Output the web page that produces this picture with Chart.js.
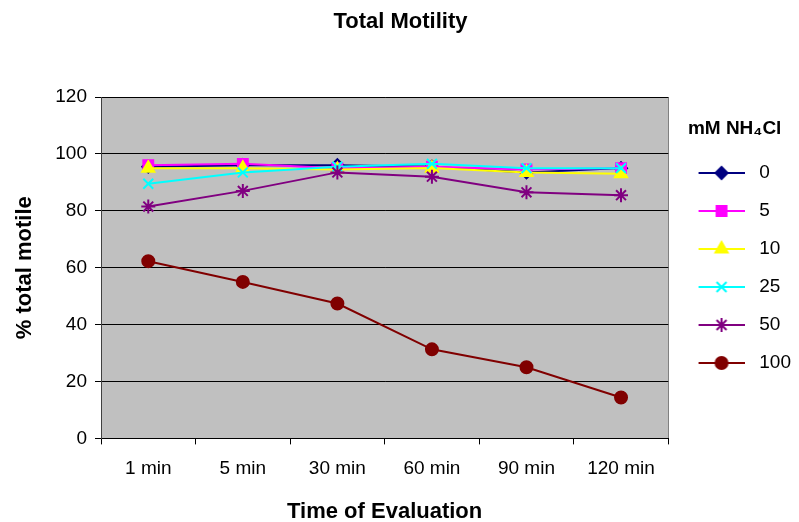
<!DOCTYPE html>
<html><head><meta charset="utf-8">
<script src="https://cdn.jsdelivr.net/npm/chart.js@4.4.0/dist/chart.umd.min.js"></script>
<style>html,body{margin:0;padding:0;background:#fff}</style></head>
<body><canvas id="c" width="799" height="522"></canvas>
<script>
const categories = ['1 min','5 min','30 min','60 min','90 min','120 min'];
const seriesNames = ['0','5','10','25','50','100'];
const s0   = [95.5, 96, 96, 95.5, 93.5, 95];
const s5   = [96, 96.5, 95, 95.5, 94.5, 95];
const s10  = [95, 95, 94.5, 95, 93.5, 93];
const s25  = [89.5, 93.5, 95.5, 96.5, 95, 95];
const s50  = [81.5, 87, 93.5, 92, 86.5, 85.5];
const s100 = [62.3, 55, 47.4, 31.3, 25, 14.4];
const yTicks = [0, 20, 40, 60, 80, 100, 120];

const seriesValues = [s0, s5, s10, s25, s50, s100];
const colors = ['#000080','#FF00FF','#FFFF00','#00FFFF','#800080','#800000'];
const markers = ['rectRot','rect','triangle','crossRot','star','circle'];
const radii = [6, 7, 7, 7, 7, 6];
const FONT = "'Liberation Sans', Arial, sans-serif";

function legendImage(i){
  const cv = document.createElement('canvas');
  cv.width = 52; cv.height = 18;
  const g = cv.getContext('2d');
  g.strokeStyle = colors[i]; g.lineWidth = 2;
  g.beginPath(); g.moveTo(6, 9); g.lineTo(52, 9); g.stroke();
  g.fillStyle = colors[i]; g.strokeStyle = colors[i];
  g.lineWidth = 2;
  Chart.helpers.drawPoint(g, {pointStyle: markers[i], radius: radii[i], borderWidth: 2, rotation: 0}, 29, 9);
  return cv;
}
const legendImgs = seriesNames.map((_, i) => legendImage(i));

const datasets = seriesNames.map((name, i) => ({
  label: name,
  data: seriesValues[i],
  borderColor: colors[i],
  backgroundColor: colors[i],
  borderWidth: 2,
  pointStyle: markers[i],
  pointRadius: radii[i],
  pointHoverRadius: radii[i],
  pointBorderWidth: 2,
  pointBackgroundColor: colors[i],
  pointBorderColor: colors[i],
  tension: 0,
  order: seriesNames.length - i
}));

const bgPlugin = {
  id: 'plotBg',
  beforeDraw(chart){
    const {ctx, chartArea: a} = chart;
    ctx.save();
    ctx.fillStyle = '#C0C0C0';
    ctx.fillRect(a.left, a.top, a.width, a.height);
    ctx.strokeStyle = '#808080'; ctx.lineWidth = 1;
    ctx.beginPath(); ctx.moveTo(Math.round(a.right) + 0.5, a.top); ctx.lineTo(Math.round(a.right) + 0.5, a.bottom); ctx.stroke();
    ctx.restore();
  }
};

new Chart(document.getElementById('c'), {
  type: 'line',
  data: { labels: categories, datasets },
  options: {
    responsive: false,
    animation: false,
    devicePixelRatio: 1,
    layout: { padding: { left: 0, right: -2, top: 0, bottom: -3 } },
    plugins: {
      tooltip: { enabled: false },
      title: {
        display: true, text: 'Total Motility', color: '#000',
        font: { family: FONT, size: 22, weight: 'bold' },
        padding: { top: 8.8, bottom: 61.8 }
      },
      legend: {
        position: 'right', align: 'start', fullSize: false,
        title: {
          display: true, text: 'mM NH\u2084Cl', color: '#000',
          font: { family: FONT, size: 19, weight: 'bold' },
          padding: { top: 22.6, bottom: 2.1 }
        },
        labels: {
          usePointStyle: true, pointStyleWidth: 62.5, boxHeight: 19,
          padding: 19, color: '#000',
          font: { family: FONT, size: 19 },
          generateLabels(chart){
            return chart.data.datasets.map((ds, i) => ({
              text: ds.label, pointStyle: legendImgs[i],
              fillStyle: colors[i], strokeStyle: colors[i], lineWidth: 0,
              hidden: false, datasetIndex: i, fontColor: '#000'
            }));
          }
        }
      }
    },
    scales: {
      x: {
        offset: true,
        grid: { offset: true, drawOnChartArea: false, drawTicks: true, tickLength: 6, color: '#000' },
        border: { color: '#000', width: 1 },
        ticks: { color: '#000', font: { family: FONT, size: 19 }, padding: 12.6, maxRotation: 0 },
        title: { display: true, text: 'Time of Evaluation', color: '#000', font: { family: FONT, size: 22, weight: 'bold' }, padding: { top: 6.2, bottom: 0 } }
      },
      y: {
        min: 0, max: 120,
        afterBuildTicks(scale){ scale.ticks = yTicks.map(v => ({ value: v })); },
        grid: { color: '#000', lineWidth: 1, tickLength: 6, drawTicks: true },
        border: { color: '#404040', width: 1 },
        ticks: { color: '#000', font: { family: FONT, size: 19 }, padding: 8 },
        title: { display: true, text: '% total motile', color: '#000', font: { family: FONT, size: 22, weight: 'bold' }, padding: { top: 11.8, bottom: 9.1 } }
      }
    }
  },
  plugins: [bgPlugin]
});
</script>
</body></html>
